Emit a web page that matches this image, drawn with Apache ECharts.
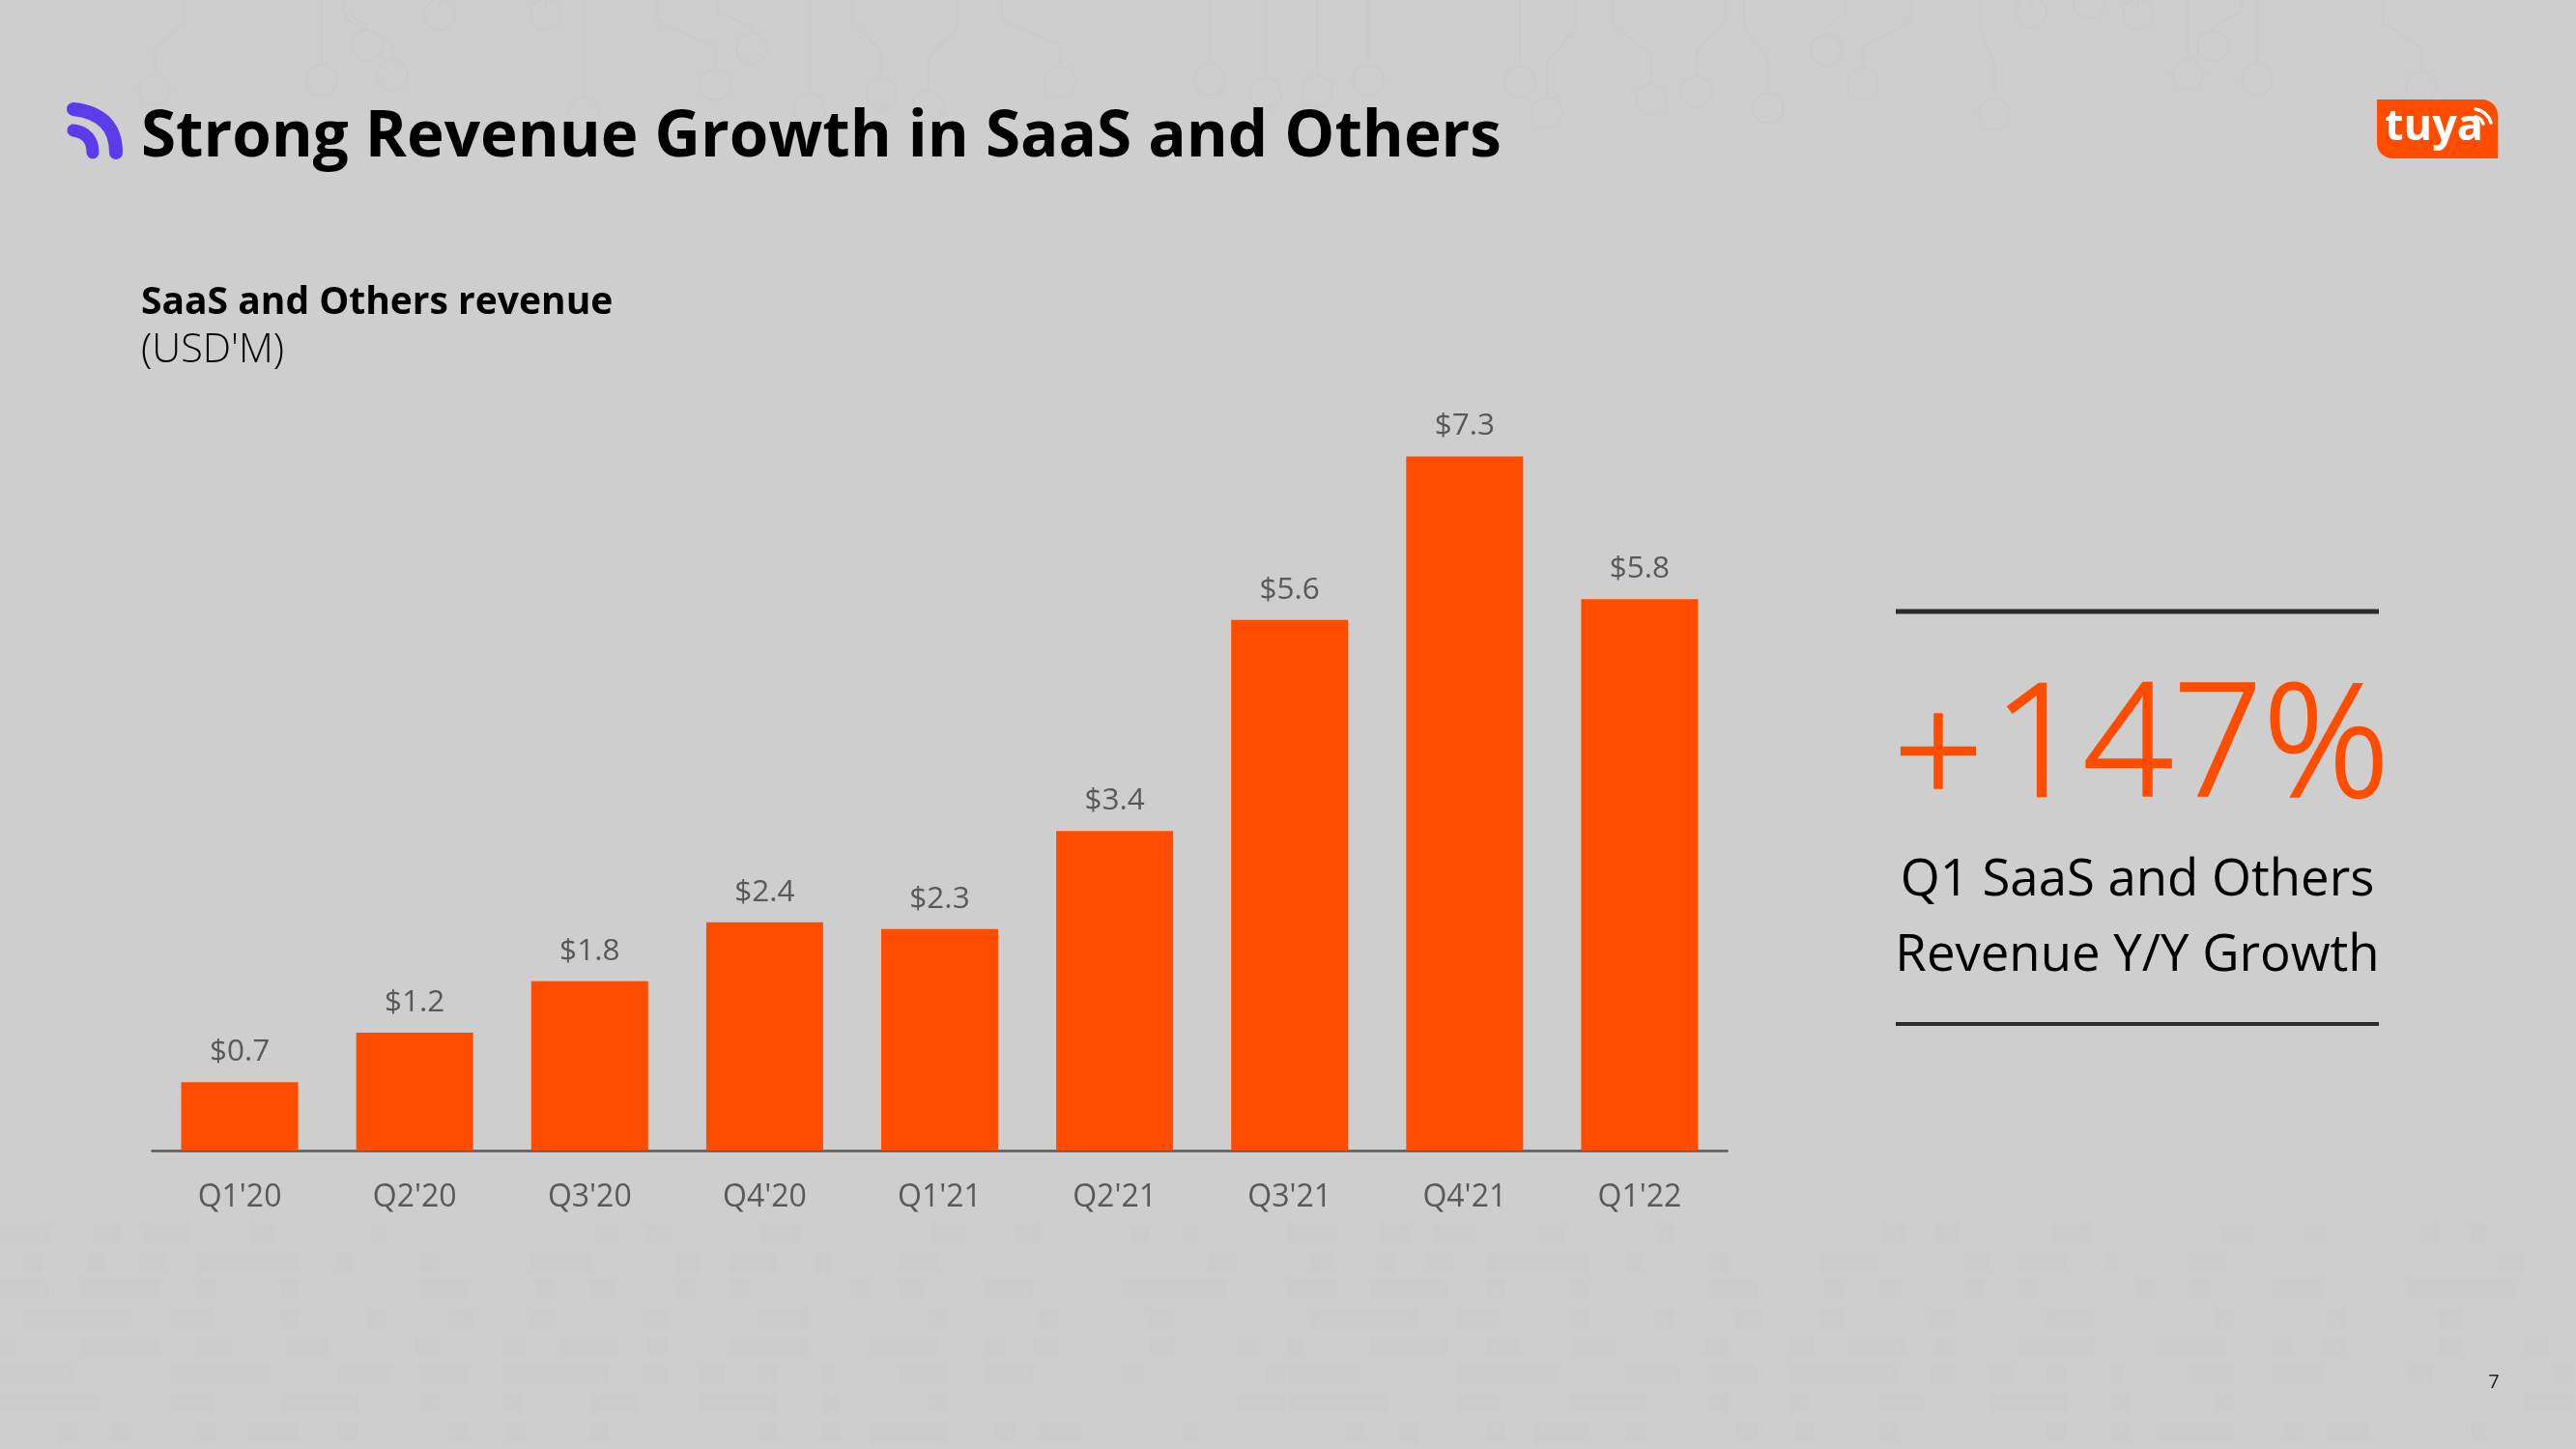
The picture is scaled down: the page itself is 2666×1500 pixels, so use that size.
<!DOCTYPE html>
<html><head><meta charset="utf-8">
<style>html,body{margin:0;padding:0;background:#cecece}#c{width:2666px;height:1500px}</style>
<script src="https://cdn.jsdelivr.net/npm/echarts@6/dist/echarts.min.js"></script>
</head><body><div id="c"></div>
<script>
const categories = ["Q1'20","Q2'20","Q3'20","Q4'20","Q1'21","Q2'21","Q3'21","Q4'21","Q1'22"];
const revenue = [0.72,1.24,1.78,2.40,2.33,3.36,5.58,7.30,5.80];
const FONT = '"Open Sans","Noto Sans",sans-serif';
const ORANGE = '#ff4d00', GREY = '#595959';

// decorative background: [x, y, kink]
const circuitNodes = [[160,93,30],[333,83,0],[380,47,-25],[406,78,-50],[455,15,0],[565,15,0],[778,50,-35],[740,88,-60],[604,117,0],
 [838,113,0],[912,97,-30],[961,110,30],[1097,85,-60],[1252,82,0],[1310,97,0],[1363,95,0],[1416,83,0],[1573,85,0],[1601,117,30],
 [1709,103,-40],[1756,95,30],[1830,112,-25],[1890,52,20],[1928,87,50],[2064,118,-15],[2102,13,0],[2213,15,0],[2290,48,30],
 [2264,77,0],[2336,82,0],[2506,90,-40],[2162,3,0]];
const dotRows = [
 [1277,[[0,50],[95,30],[150,45],[260,25],[385,15],[615,25],[670,25],[790,40],[965,35],[1050,25],[1170,20],[1225,15]]],
 [1307,[[25,20],[90,20],[145,25],[205,105],[350,15],[435,20],[550,60],[700,25],[755,50],[845,15],[930,40],[1250,30]]],
 [1335,[[0,50],[85,80],[205,20],[290,20],[435,50],[555,20],[610,25],[700,20],[755,20],[880,20],[930,25],[1020,50],[1160,110]]],
 [1365,[[25,110],[175,45],[290,20],[380,20],[465,25],[550,25],[665,25],[785,50],[960,20],[1075,20],[1190,25]]],
 [1393,[[0,15],[85,80],[205,35],[295,45],[430,25],[520,25],[580,60],[670,20],[755,80],[900,70],[1020,20],[1070,25],[1190,25],[1280,25]]],
 [1422,[[0,75],[175,105],[350,55],[435,50],[520,110],[665,25],[725,25],[785,20],[850,15],[930,50],[1020,50],[1160,25],[1310,20]]],
 [1452,[[0,105],[175,45],[290,80],[435,20],[520,20],[610,50],[725,80],[850,20],[960,20],[1280,50]]],
 [1482,[[60,20],[115,20],[205,20],[255,55],[350,20],[465,20],[525,20],[610,20],[785,20],[850,20],[900,80],[1030,20],[1075,45],[1225,15]]]
];
const decor = [];
const lineCol = '#cacaca';
circuitNodes.forEach(([x,y,k]) => {
  decor.push({type:'circle',z:-10,silent:true,shape:{cx:x,cy:y,r:16},style:{fill:'none',stroke:lineCol,lineWidth:1.5}});
  decor.push({type:'polyline',z:-10,silent:true,shape:{points:[[x,y-16],[x,Math.max(y*0.55,0)],[x+k,Math.max(y*0.25,0)],[x+k,0]]},style:{fill:'none',stroke:lineCol,lineWidth:1.5}});
});
dotRows.forEach(([y,segs]) => [0,1333].forEach(off => segs.forEach(([x,w]) => {
  decor.push({type:'rect',z:-10,silent:true,shape:{x:x+off,y:y-10,width:w,height:20},style:{fill:'#cbcbcb',opacity:0.55}});
})));

function txt(text,x,y,size,color,weight,align,strokeW){
  const style = {text,fill:color,font:`${weight} ${size}px ${FONT}`,textAlign:align||'left',textVerticalAlign:'middle'};
  if (strokeW) { style.stroke = color; style.lineWidth = strokeW; }
  return {type:'text',z:50,x,y,silent:true,style};
}
function curve(x1,y1,cx,cy,x2,y2,col,w,z){
  return {type:'bezierCurve',z:z||50,silent:true,shape:{x1,y1,cpx1:cx,cpy1:cy,x2,y2},style:{fill:'none',stroke:col,lineWidth:w,lineCap:'round'}};
}
const overlay = [
  curve(76,113,120,118,120,158,'#5b3bea',14),
  curve(76,135,96,138,96,158,'#5b3bea',13),
  txt('Strong Revenue Growth in SaaS and Others',146,143,65.5,'#000','700'),
  txt('SaaS and Others revenue',146,313.5,39,'#000','700'),
  txt("(USD'M)",146,363,41.5,'#000','300'),
  {type:'rect',z:50,silent:true,shape:{x:2460,y:103,width:125,height:61,r:[0,16,0,16]},style:{fill:ORANGE}},
  txt('tuya',2519,132,45,'#fff','700','center'),
  curve(2562,113,2574,115,2578,127,'#fff',3.5,51),
  curve(2562,121,2568,122,2570,128,'#fff',3.5,51),
  {type:'rect',z:50,silent:true,shape:{x:1962,y:630.5,width:500,height:5},style:{fill:'#2b2b2b'}},
  {type:'rect',z:50,silent:true,shape:{x:1962,y:1058,width:500,height:4},style:{fill:'#2b2b2b'}},
  txt('+',2006,789,163,ORANGE,'300','center',2.5),
  txt('147%',2268,778,163,ORANGE,'300','center',2.5),
  txt('Q1 SaaS and Others',2212,912,52.7,'#000','400','center'),
  txt('Revenue Y/Y Growth',2212,990,52.7,'#000','400','center'),
  txt('7',2581,1431,20,'#222','400','center')
];

const chart = echarts.init(document.getElementById('c'),null,{renderer:'canvas'});
chart.setOption({
  animation:false,
  backgroundColor:'#cecece',
  grid:{left:157.5,right:878.5,top:403.6,bottom:309},
  xAxis:{type:'category',data:categories,
    axisLine:{lineStyle:{color:GREY,width:2.5}},axisTick:{show:false},
    axisLabel:{color:GREY,fontFamily:FONT,fontSize:32,margin:33}},
  yAxis:{type:'value',min:0,max:8,show:false,splitLine:{show:false}},
  series:[{type:'bar',data:revenue,barWidth:121,itemStyle:{color:ORANGE},
    label:{show:true,position:'top',distance:15,color:GREY,fontFamily:FONT,fontSize:31.5,
      formatter:p=>'$'+p.value.toFixed(1)}}],
  graphic:{elements:decor.concat(overlay)}
});
</script></body></html>
